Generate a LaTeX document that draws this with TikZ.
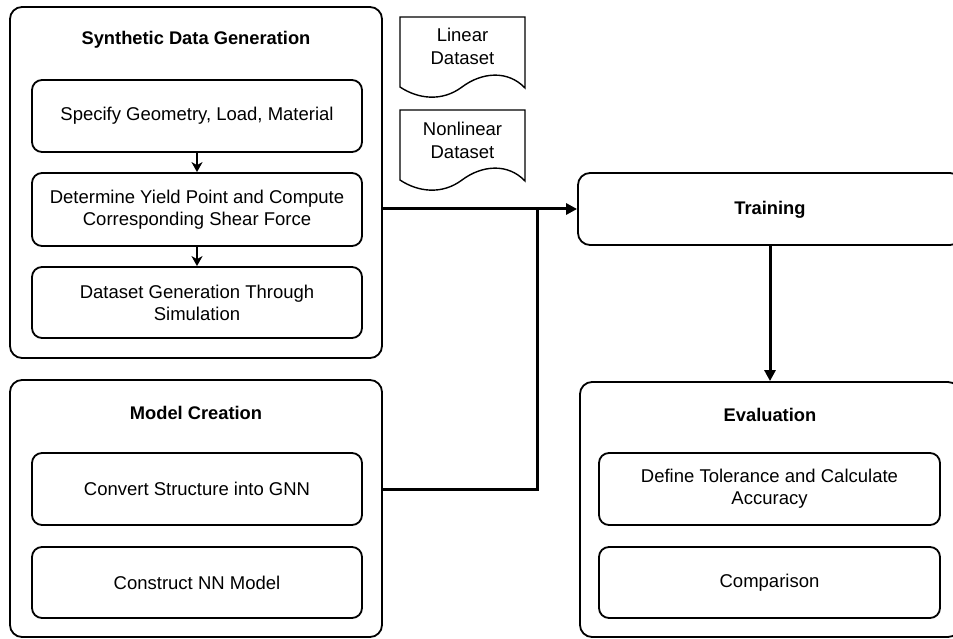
\documentclass[tikz,border=0pt]{standalone}
\usepackage{fontspec}
\setmainfont{Liberation Sans}
\usetikzlibrary{arrows.meta}
\begin{document}
\begin{tikzpicture}[x=1pt,y=-1pt,
  outerbox/.style={draw, line width=1.8pt, rounded corners=12pt, inner sep=0pt},
  innerbox/.style={draw, line width=1.8pt, rounded corners=10pt, inner sep=0pt, align=center, font=\fontsize{18.5}{22}\selectfont},
  ttl/.style={font=\fontsize{18.3}{22}\selectfont\bfseries},
  doctext/.style={align=center, font=\fontsize{18.5}{23}\selectfont},
  conn/.style={line width=3pt, -{Triangle[length=11pt,width=11pt]}},
  plain/.style={line width=3pt},
  small/.style={line width=2.6pt, -{Stealth[length=10pt,width=11pt,inset=3pt]}}
]
\useasboundingbox (0,0) rectangle (953,639);
\clip (0,0) rectangle (953,639);
% Synthetic Data Generation
\node[outerbox, minimum width=372pt, minimum height=351pt] (synth) at (196,182.5) {};
\node[ttl] (synthT) at (196,40) {Synthetic Data Generation};
\node[innerbox, minimum width=330pt, minimum height=72pt] (s1) at (197,116) {\raisebox{-2pt}{Specify Geometry, Load, Material}};
\node[innerbox, minimum width=330pt, minimum height=73pt] (s2) at (197,209.5) {Determine Yield Point and Compute\\Corresponding Shear Force};
\node[innerbox, minimum width=330pt, minimum height=71pt] (s3) at (197,302.5) {Dataset Generation Through\\Simulation};
\draw[small] (s1.south) -- (s2.north);
\draw[small] (s2.south) -- (s3.north);
% Model Creation
\node[outerbox, minimum width=372pt, minimum height=257pt] (model) at (196,508.5) {};
\node[ttl] (modelT) at (196,413) {Model Creation};
\node[innerbox, minimum width=330pt, minimum height=72pt] (m1) at (197,489) {\raisebox{-2pt}{Convert Structure into GNN}};
\node[innerbox, minimum width=330pt, minimum height=71pt] (m2) at (197,582.5) {\raisebox{-2pt}{Construct NN Model}};
% Documents
\draw[line width=1.4pt] (400,17) -- (525,17) -- (525,88)
  .. controls (508,70) and (482,72) .. (462,87)
  .. controls (442,102) and (418,99) .. (400,87) -- cycle;
\node[doctext] (lin) at (462.5,46) {Linear\\Dataset};
\draw[line width=1.4pt] (400,110) -- (525,110) -- (525,181)
  .. controls (508,163) and (482,165) .. (462,180)
  .. controls (442,195) and (418,192) .. (400,180) -- cycle;
\node[doctext] (nonlin) at (462.5,140) {Nonlinear\\Dataset};
% Training
\node[outerbox, minimum width=384pt, minimum height=72pt] (train) at (770,209) {};
\node[ttl] (trainT) at (770,210) {Training};
% Evaluation
\node[outerbox, minimum width=380pt, minimum height=255pt] (eval) at (770,509.5) {};
\node[ttl] (evalT) at (770,415) {Evaluation};
\node[innerbox, minimum width=341pt, minimum height=72pt] (e1) at (769.5,489) {Define Tolerance and Calculate\\Accuracy};
\node[innerbox, minimum width=341pt, minimum height=71pt] (e2) at (769.5,582.5) {\raisebox{-2pt}{Comparison}};
% Connectors
\coordinate (j) at (537,210);
\draw[conn] (synth.east |- train.west) -- (train.west);
\draw[plain] (model.east |- m1) -- (j |- m1) -- (j);
\draw[conn] (train.south) -- (eval.north);
\end{tikzpicture}
\end{document}
